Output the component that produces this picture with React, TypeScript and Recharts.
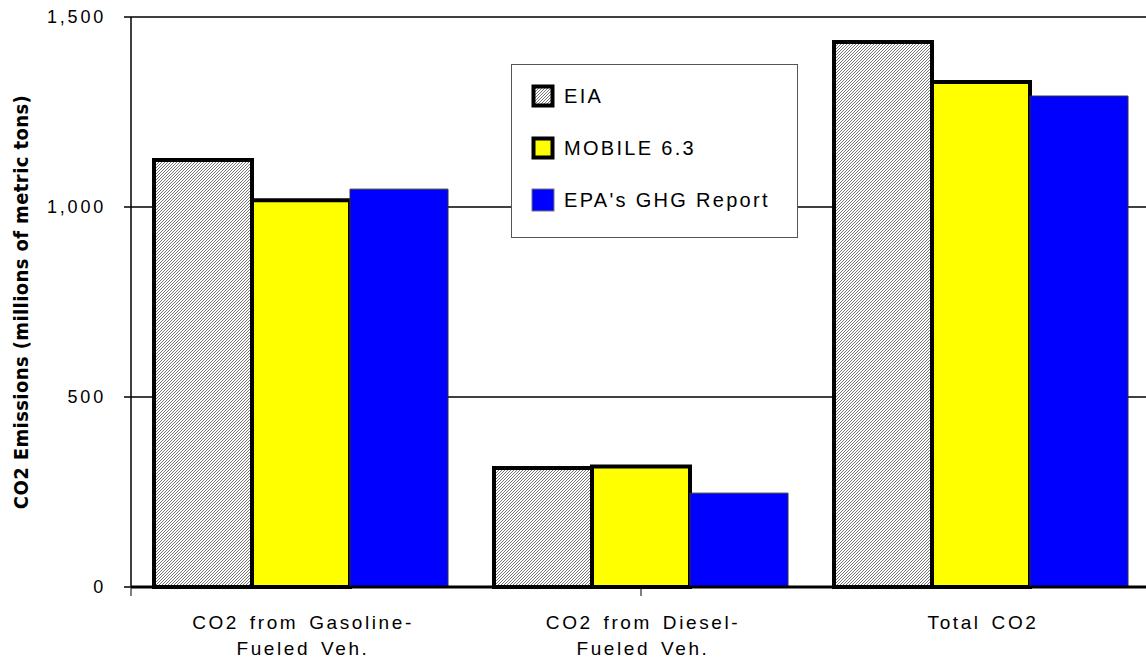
import {
  Bar,
  BarChart,
  CartesianGrid,
  Legend,
  XAxis,
  YAxis,
} from 'recharts'

const categories = ['Gasoline', 'Diesel', 'Total']
const categoryLines = [
  ['CO2 from Gasoline-', 'Fueled Veh.'],
  ['CO2 from Diesel-', 'Fueled Veh.'],
  ['Total CO2'],
]
const eiaValues = [1124, 313, 1434]
const mobileValues = [1018, 317, 1329]
const epaValues = [1047, 247, 1292]
const yTicks = [0, 500, 1000, 1500]
const edgeTicks = [0, 1, 2, 3]

const series = [
  { key: 'eia', name: 'EIA', fill: 'url(#hatch)', stroke: '#000', strokeWidth: 4, values: eiaValues },
  { key: 'mobile', name: 'MOBILE 6.3', fill: '#ffff00', stroke: '#000', strokeWidth: 4, values: mobileValues },
  { key: 'epa', name: "EPA's GHG Report", fill: '#0000ff', stroke: '#333', strokeWidth: 1, values: epaValues },
]

const data = categories.map((name, i) => {
  const row: Record<string, string | number> = { name }
  series.forEach((s) => {
    row[s.key] = s.values[i]
  })
  return row
})

const font = '"Liberation Sans", Arial, sans-serif'

function CategoryTick({ x, y, index }: any) {
  const lines = categoryLines[index] ?? []
  return (
    <text
      x={x}
      y={y}
      textAnchor="middle"
      fontFamily={font}
      fontSize={19}
      letterSpacing={2.6}
      wordSpacing={3}
      fill="#000"
    >
      {lines.map((line, i) => (
        <tspan key={line} x={x + 2} y={y + 40 + i * 26}>
          {line}
        </tspan>
      ))}
    </text>
  )
}

function YLabel({ viewBox }: any) {
  const cx = viewBox.x + 21
  const cy = viewBox.y + viewBox.height / 2
  return (
    <text
      x={cx}
      y={cy}
      transform={`rotate(-90 ${cx} ${cy})`}
      textAnchor="middle"
      dominantBaseline="central"
      fontFamily='"DejaVu Sans Condensed", "Liberation Sans Narrow", sans-serif'
      fontWeight="bold"
      fontSize={20}
      letterSpacing={0.4}
      fill="#000"
    >
      CO2 Emissions  (millions of metric tons)
    </text>
  )
}

function LegendBox() {
  return (
    <div
      style={{
        width: 287,
        height: 174,
        border: '1px solid #555',
        background: '#fff',
        boxSizing: 'border-box',
        padding: '19px 0 0 19px',
        fontFamily: font,
        fontSize: 20,
        letterSpacing: 2.3,
        color: '#000',
      }}
    >
      {series.map((s) => (
        <div
          key={s.key}
          style={{ display: 'flex', alignItems: 'center', height: 24, marginBottom: 28 }}
        >
          <svg width={24} height={24} style={{ marginRight: 9, flex: 'none' }}>
            <rect
              x={s.strokeWidth / 2 + 0.5}
              y={s.strokeWidth / 2 + 0.5}
              width={23 - s.strokeWidth}
              height={23 - s.strokeWidth}
              fill={s.fill}
              stroke={s.stroke === '#333' ? '#777' : s.stroke}
              strokeWidth={s.strokeWidth}
            />
          </svg>
          <span style={{ whiteSpace: 'nowrap' }}>{s.name}</span>
        </div>
      ))}
    </div>
  )
}

export default function App() {
  return (
    <div
      style={{
        position: 'absolute',
        left: 0,
        top: 0,
        width: 1146,
        height: 665,
        overflow: 'hidden',
        background: '#fff',
      }}
    >
      <BarChart
        width={1160}
        height={665}
        data={data}
        margin={{ top: 17, right: 9, left: 0, bottom: 76 }}
        barCategoryGap={23}
        barGap={0}
      >
        <defs>
          <pattern id="hatch" width={3} height={3} patternUnits="userSpaceOnUse">
            <rect width={3} height={3} fill="#fff" />
            <path d="M-1,1 l2,-2 M0,3 l3,-3 M2,4 l2,-2" stroke="#777" strokeWidth={1} />
          </pattern>
        </defs>
        <CartesianGrid horizontal vertical={false} stroke="#000" strokeWidth={1.5} />
        <XAxis
          dataKey="name"
          height={1}
          tickLine={false}
          tickSize={0}
          axisLine={{ stroke: '#000', strokeWidth: 3 }}
          tick={<CategoryTick />}
          interval={0}
        />
        <XAxis
          xAxisId="edges"
          type="number"
          domain={[0, 3]}
          ticks={edgeTicks}
          height={1}
          axisLine={false}
          tickLine={{ stroke: '#000', strokeWidth: 1 }}
          tickSize={8}
          tickFormatter={() => ''}
        />
        <YAxis
          width={131}
          domain={[0, 1500]}
          ticks={yTicks}
          interval={0}
          tickSize={7}
          tickMargin={18}
          tickLine={{ stroke: '#000', strokeWidth: 1.5 }}
          axisLine={{ stroke: '#000', strokeWidth: 1.5 }}
          tickFormatter={(v: number) => v.toLocaleString('en-US')}
          tick={{ fill: '#000', fontSize: 18, fontFamily: font, letterSpacing: 2.8 }}
          label={<YLabel />}
        />
        <Legend
          layout="vertical"
          align="center"
          verticalAlign="middle"
          content={() => <LegendBox />}
          wrapperStyle={{ position: 'absolute', left: 511, top: 64, width: 287 }}
        />
        {series.map((s) => (
          <Bar
            key={s.key}
            dataKey={s.key}
            name={s.name}
            fill={s.fill}
            stroke={s.stroke}
            strokeWidth={s.strokeWidth}
            isAnimationActive={false}
          />
        ))}
      </BarChart>
    </div>
  )
}
